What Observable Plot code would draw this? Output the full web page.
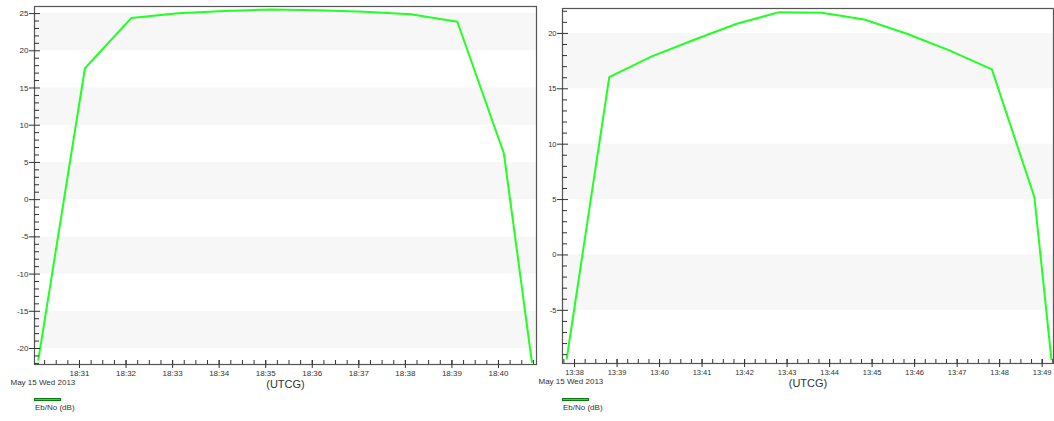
<!DOCTYPE html>
<html>
<head>
<meta charset="utf-8">
<script src="https://cdn.jsdelivr.net/npm/d3@7"></script>
<script src="https://cdn.jsdelivr.net/npm/@observablehq/plot@0.6"></script>
<style>
  body { margin: 0; background: #fff; font-family: "Liberation Sans", Arial, sans-serif; }
  #wrap { position: relative; width: 1054px; height: 421px; overflow: hidden; background: #fff; }
  .panel { position: absolute; top: 0; }
  .swatch { position: absolute; width: 25px; height: 1px; background: #00ff00; border: 1px solid #0a7a0a; }
  .legend-text { position: absolute; font-size: 8px; color: #333; white-space: nowrap; }
</style>
</head>
<body>
<div id="wrap"></div>
<script>
// Eb/No over two access passes, 15 May 2013 (UTC)
const dateLabel = "May 15 Wed 2013";
const seriesName = "Eb/No (dB)";
const axisUnit = "(UTCG)";

// Pass 1 (18:30 – 18:41)
const pass1Times = ["18:30:07", "18:31:07", "18:32:07", "18:33:07", "18:34:07", "18:35:07",
                    "18:36:07", "18:37:07", "18:38:07", "18:39:07", "18:40:07", "18:40:43"];
const pass1EbNo  = [-21.5, 17.65, 24.42, 25.05, 25.35, 25.55,
                    25.45, 25.25, 24.9, 23.9, 6.2, -21.8];
const pass1XDomain = ["18:30:02", "18:40:49"];
const pass1YDomain = [-22.15, 25.95];
const pass1YTicks = [-20, -15, -10, -5, 0, 5, 10, 15, 20, 25];

// Pass 2 (13:37 – 13:49)
const pass2Times = ["13:37:49", "13:38:49", "13:39:49", "13:40:49", "13:41:49", "13:42:49", "13:43:49",
                    "13:44:49", "13:45:49", "13:46:49", "13:47:49", "13:48:49", "13:49:13"];
const pass2EbNo  = [-9.35, 16.06, 17.93, 19.43, 20.87, 21.92, 21.86,
                    21.26, 19.97, 18.47, 16.76, 5.23, -9.4];
const pass2XDomain = ["13:37:43", "13:49:16"];
const pass2YDomain = [-9.8, 22.25];
const pass2YTicks = [-5, 0, 5, 10, 15, 20];

const parseTime = d3.utcParse("%Y-%m-%d %H:%M:%S");
const at = (s) => parseTime(`2013-05-15 ${s}`);

function drawPanel({times, values, xDomain, yDomain, yTicks, left, width, marginLeft, marginRight, marginTop, marginBottom, tickFont}) {
  const data = times.map((t, i) => ({t: at(t), v: values[i]}));
  const ticksDesc = [...yTicks].sort((a, b) => b - a);
  const step = ticksDesc[0] - ticksDesc[1];
  // alternate shaded bands, starting just below the top labelled tick
  const bands = ticksDesc.filter((_, i) => i % 2 === 0).map(top => ({y1: top - step, y2: top}));
  const minorY = d3.range(Math.ceil(yDomain[0]), Math.floor(yDomain[1]) + 1).filter(v => !yTicks.includes(v));
  const ink = "#333";

  const chart = Plot.plot({
    width, height: 421,
    marginLeft, marginRight, marginTop, marginBottom,
    style: {fontFamily: "Liberation Sans, Arial, sans-serif", background: "transparent", overflow: "visible"},
    x: {type: "utc", domain: xDomain.map(at)},
    y: {domain: yDomain},
    marks: [
      Plot.rect(bands, {y1: "y1", y2: "y2", fill: "#f7f7f7"}),
      Plot.line(data, {x: "t", y: "v", stroke: "#22ff22", strokeWidth: 2}),
      Plot.frame({stroke: "#555", strokeWidth: 1.2}),
      // y axis: minor ticks inside, major ticks crossing the axis, labels
      Plot.axisY({ticks: minorY, tickSize: 5, dx: 5, tickFormat: () => "", stroke: ink, label: null}),
      Plot.axisY({ticks: yTicks, tickSize: 11, dx: 6, tickFormat: () => "", stroke: ink, label: null}),
      Plot.axisY({ticks: yTicks, tickSize: 0, tickPadding: 6, tickFormat: d => String(d), fontSize: tickFont, fill: ink, label: null}),
      // x axis: 15 s minor ticks, 1 min major ticks, labels
      Plot.axisX({ticks: d3.utcSecond.every(15), tickSize: 4, dy: -4, tickFormat: () => "", stroke: ink, label: null}),
      Plot.axisX({ticks: d3.utcMinute.every(1), tickSize: 8, dy: -4, tickFormat: () => "", stroke: ink, label: null}),
      Plot.axisX({ticks: d3.utcMinute.every(1), tickSize: 0, tickPadding: 6, tickFormat: d3.utcFormat("%H:%M"), fontSize: tickFont, fill: ink, label: null}),
      Plot.text([dateLabel], {frameAnchor: "bottom-left", dx: -24, dy: 20, textAnchor: "start", fontSize: 8, fill: ink}),
      Plot.text([axisUnit], {frameAnchor: "bottom", dy: 23, fontSize: 11, fill: ink})
    ]
  });
  chart.classList.add("panel");
  chart.style.left = left + "px";
  document.getElementById("wrap").appendChild(chart);

  const frameLeft = left + marginLeft;
  const sw = document.createElement("div");
  sw.className = "swatch";
  sw.style.left = frameLeft + "px";
  sw.style.top = "398px";
  document.getElementById("wrap").appendChild(sw);
  const lt = document.createElement("div");
  lt.className = "legend-text";
  lt.textContent = seriesName;
  lt.style.left = (frameLeft + 1) + "px";
  lt.style.top = "403px";
  document.getElementById("wrap").appendChild(lt);
}

drawPanel({times: pass1Times, values: pass1EbNo, xDomain: pass1XDomain, yDomain: pass1YDomain, yTicks: pass1YTicks,
           left: 0, width: 540, marginLeft: 34, marginRight: 4, marginTop: 6, marginBottom: 57, tickFont: 8});
drawPanel({times: pass2Times, values: pass2EbNo, xDomain: pass2XDomain, yDomain: pass2YDomain, yTicks: pass2YTicks,
           left: 540, width: 514, marginLeft: 22, marginRight: 1, marginTop: 8, marginBottom: 58, tickFont: 7.5});
</script>
</body>
</html>
